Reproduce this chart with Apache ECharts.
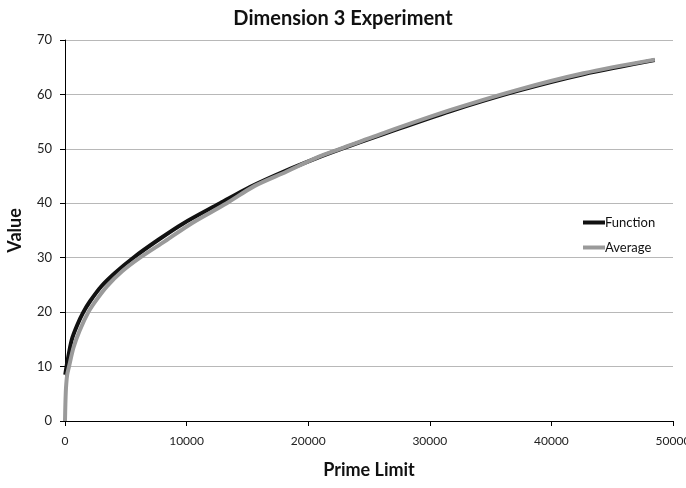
<!DOCTYPE html>
<html>
<head>
<meta charset="utf-8">
<script src="https://cdn.jsdelivr.net/npm/echarts@6/dist/echarts.min.js"></script>
<style>
  html, body { margin: 0; padding: 0; background: #fff; }
  #chart { width: 686px; height: 488px; }
</style>
</head>
<body>
<div id="chart"></div>
<script>
// data
const funcX = [20, 190, 550, 1000, 1510, 2060, 3010, 4110, 5620, 7680, 9730, 12750, 15210, 17950, 20700, 22620, 26180, 31660, 37150, 42630, 48500];
const funcY = [8.5, 10.8, 14.9, 17.6, 20, 22.0, 24.8, 27.2, 30, 33.3, 36.3, 40, 43.0, 45.8, 48.3, 49.9, 52.7, 56.9, 60.6, 63.7, 66.3];
const avgX = [0, 30, 80, 180, 330, 700, 1200, 1920, 2600, 3430, 4700, 6170, 8200, 10400, 13300, 15600, 18200, 20700, 22620, 26180, 31660, 37150, 42630, 48500];
const avgY = [0, 3, 6, 8.5, 10, 13.5, 16.6, 20, 22.3, 24.7, 27.5, 30, 33, 36.3, 40, 43.2, 45.8, 48.4, 50, 52.9, 57.1, 60.8, 63.9, 66.4];

const FONT = 'Lato';

function pairs(xs, ys) {
  return xs.map((x, i) => [x, ys[i]]);
}

var myChart = echarts.init(document.getElementById('chart'));
var option = {
  animation: false,
  textStyle: { fontFamily: FONT },
  title: {
    text: 'Dimension 3 Experiment',
    left: 'center',
    top: 4,
    textStyle: { fontFamily: FONT, fontSize: 20, fontWeight: 'bold', color: '#111' }
  },
  legend: {
    orient: 'vertical',
    left: 578,
    top: 211,
    itemWidth: 22,
    itemHeight: 4,
    itemGap: 12,
    icon: 'rect',
    textStyle: { fontFamily: FONT, fontSize: 13, color: '#111', padding: [0, 0, 0, -5] },
    data: ['Function', 'Average']
  },
  grid: { left: 65, right: 13, top: 40, bottom: 67, outerBoundsMode: 'none' },
  xAxis: {
    type: 'value',
    min: 0,
    max: 50000,
    interval: 10000,
    name: 'Prime Limit',
    nameLocation: 'middle',
    nameGap: 40,
    nameTextStyle: { fontFamily: FONT, fontSize: 18, fontWeight: 'bold', color: '#111' },
    axisLine: { show: true, lineStyle: { color: '#000', width: 1 } },
    axisTick: { show: true, length: 5, lineStyle: { color: '#000' } },
    axisLabel: { fontFamily: FONT, fontSize: 12, color: '#222', margin: 14, formatter: v => String(v) },
    splitLine: { show: false }
  },
  yAxis: {
    type: 'value',
    min: 0,
    max: 70,
    interval: 10,
    name: 'Value',
    nameLocation: 'middle',
    nameGap: 41,
    nameTextStyle: { fontFamily: FONT, fontSize: 18, fontWeight: 'bold', color: '#111' },
    axisLine: { show: true, lineStyle: { color: '#000', width: 1 } },
    axisTick: { show: true, length: 5, lineStyle: { color: '#000' } },
    axisLabel: { fontFamily: FONT, fontSize: 13, color: '#222', margin: 13 },
    splitLine: { show: true, lineStyle: { color: '#b8b8b8', width: 1 } }
  },
  series: [
    {
      name: 'Function',
      type: 'line',
      smooth: 0.3,
      showSymbol: false,
      symbol: 'none',
      color: '#111',
      lineStyle: { color: '#111', width: 4 },
      data: pairs(funcX, funcY)
    },
    {
      name: 'Average',
      type: 'line',
      smooth: 0.3,
      showSymbol: false,
      symbol: 'none',
      color: '#9a9a9a',
      lineStyle: { color: '#9a9a9a', width: 4 },
      data: pairs(avgX, avgY)
    }
  ]
};
myChart.setOption(option);
</script>
</body>
</html>
